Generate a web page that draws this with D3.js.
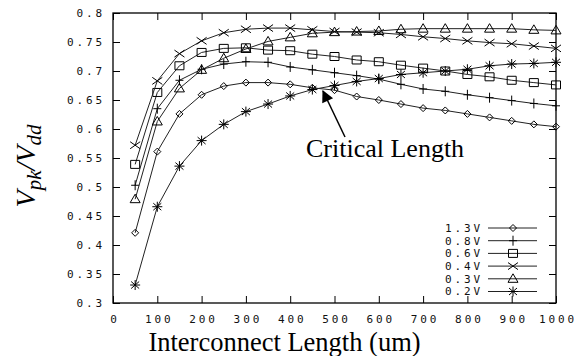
<!DOCTYPE html>
<meta charset="utf-8">
<style>
  body { margin: 0; background: #fff; }
  .tick text { font-family: "DejaVu Sans Mono", "Liberation Mono", monospace; font-size: 11px; letter-spacing: 2.9px; fill: #111; }
  .legend text { font-family: "DejaVu Sans Mono", "Liberation Mono", monospace; font-size: 11px; letter-spacing: 2.9px; fill: #111; }
  .series path.line { fill: none; stroke: #222; stroke-width: 1; }
  .marker { fill: none; stroke: #000; stroke-width: 1; }
</style>
<body>
<script src="https://cdn.jsdelivr.net/npm/d3@7"></script>
<script>

 // interconnect lengths (um)
 var lengths = [50, 100, 150, 200, 250, 300, 350, 400, 450, 500,
                550, 600, 650, 700, 750, 800, 850, 900, 950, 1000];

 var seriesNames = ["1.3V", "0.8V", "0.6V", "0.4V", "0.3V", "0.2V"];
 var seriesSymbols = ["diamond", "plus", "square", "cross", "triangle", "star"];

 var v13 = [0.421, 0.561, 0.626, 0.659, 0.674, 0.680, 0.680, 0.677, 0.671, 0.667,
            0.656, 0.650, 0.643, 0.636, 0.632, 0.626, 0.620, 0.614, 0.608, 0.604];
 var v08 = [0.503, 0.635, 0.684, 0.703, 0.712, 0.716, 0.715, 0.707, 0.702, 0.697,
            0.692, 0.686, 0.677, 0.669, 0.665, 0.659, 0.654, 0.649, 0.644, 0.640];
 var v06 = [0.539, 0.663, 0.709, 0.732, 0.739, 0.740, 0.736, 0.735, 0.729, 0.725,
            0.719, 0.716, 0.710, 0.705, 0.700, 0.694, 0.690, 0.684, 0.680, 0.676];
 var v04 = [0.572, 0.683, 0.730, 0.752, 0.766, 0.772, 0.774, 0.774, 0.771, 0.768,
            0.767, 0.766, 0.763, 0.759, 0.756, 0.752, 0.749, 0.747, 0.743, 0.739];
 var v03 = [0.479, 0.613, 0.670, 0.702, 0.722, 0.738, 0.751, 0.758, 0.765, 0.767,
            0.768, 0.769, 0.772, 0.773, 0.773, 0.773, 0.773, 0.773, 0.771, 0.770];
 var v02 = [0.331, 0.466, 0.536, 0.580, 0.608, 0.630, 0.643, 0.657, 0.668, 0.675,
            0.682, 0.687, 0.694, 0.697, 0.700, 0.703, 0.709, 0.712, 0.713, 0.715];
 var seriesValues = [v13, v08, v06, v04, v03, v02];

 var xTicks = [0, 100, 200, 300, 400, 500, 600, 700, 800, 900, 1000];
 var yTicks = [0.3, 0.35, 0.4, 0.45, 0.5, 0.55, 0.6, 0.65, 0.7, 0.75, 0.8];
 var yTickLabels = ["0.3", "0.35", "0.4", "0.45", "0.5", "0.55", "0.6", "0.65", "0.7", "0.75", "0.8"];

 var W = 574, H = 356;
 var plotL = 113, plotR = 556, plotT = 13, plotB = 303;

 var svg = d3.select("body").append("svg")
             .attr("width", W)
             .attr("height", H);

 var x = d3.scaleLinear().domain([0, 1000]).range([plotL, plotR]);
 var y = d3.scaleLinear().domain([0.3, 0.8]).range([plotB, plotT]);

 var tick = 7;

 // axes, ticks pointing inwards and mirrored on top / right
 var gx = svg.append("g")
             .attr("transform", "translate(0," + plotB + ")")
             .call(d3.axisBottom(x).tickValues(xTicks).tickSize(-tick).tickPadding(12)
                   .tickFormat(d3.format("d")));
 gx.selectAll("text").attr("dx", 1.5);

 var gy = svg.append("g")
             .attr("transform", "translate(" + plotL + ",0)")
             .call(d3.axisLeft(y).tickValues(yTicks).tickSize(-tick)
                   .tickFormat((d, i) => yTickLabels[i]));
 gy.selectAll("text").attr("x", -8);

 svg.append("g")
    .attr("transform", "translate(0," + plotT + ")")
    .call(d3.axisTop(x).tickValues(xTicks).tickSize(-tick).tickFormat(""));
 svg.append("g")
    .attr("transform", "translate(" + plotR + ",0)")
    .call(d3.axisRight(y).tickValues(yTicks).tickSize(-tick).tickFormat(""));

 svg.selectAll(".domain").remove();
 svg.selectAll(".tick line").attr("stroke", "#000").attr("stroke-width", 1);

 svg.append("rect")
    .attr("x", plotL).attr("y", plotT)
    .attr("width", plotR - plotL).attr("height", plotB - plotT)
    .attr("fill", "none")
    .attr("stroke", "#000")
    .attr("stroke-width", 1.3);

 // gnuplot-like point symbols
 function symbolPath(type) {
     var p = d3.path();
     if (type == "diamond") {
         p.moveTo(0, -3.5); p.lineTo(3.5, 0); p.lineTo(0, 3.5); p.lineTo(-3.5, 0); p.closePath();
     } else if (type == "plus") {
         p.moveTo(-4, 0); p.lineTo(4, 0); p.moveTo(0, -5); p.lineTo(0, 5);
     } else if (type == "square") {
         p.rect(-4.5, -4, 9, 8);
     } else if (type == "cross") {
         p.moveTo(-5, -3.5); p.lineTo(5, 3.5); p.moveTo(-5, 3.5); p.lineTo(5, -3.5);
     } else if (type == "triangle") {
         p.moveTo(0, -5); p.lineTo(5, 3.5); p.lineTo(-5, 3.5); p.closePath();
     } else if (type == "star") {
         p.moveTo(-5, 0); p.lineTo(5, 0); p.moveTo(0, -5); p.lineTo(0, 5);
         p.moveTo(-4, -3.5); p.lineTo(4, 3.5); p.moveTo(-4, 3.5); p.lineTo(4, -3.5);
     }
     return p.toString();
 }

 var series = seriesNames.map((name, i) => ({
     name: name,
     symbol: seriesSymbols[i],
     points: lengths.map((l, j) => ({ x: l, y: seriesValues[i][j] }))
 }));

 var line = d3.line().x(d => x(d.x)).y(d => y(d.y));

 var sg = svg.selectAll(".series")
             .data(series)
             .enter()
             .append("g")
             .classed("series", true);

 sg.append("path")
   .classed("line", true)
   .attr("d", d => line(d.points));

 sg.each(function(s) {
     d3.select(this).selectAll(".marker")
       .data(s.points)
       .enter()
       .append("path")
       .classed("marker", true)
       .attr("transform", d => "translate(" + x(d.x) + "," + y(d.y) + ")")
       .attr("d", symbolPath(s.symbol));
 });

 // legend
 var legend = svg.append("g").classed("legend", true);
 var lg = legend.selectAll("g")
                .data(series)
                .enter()
                .append("g")
                .attr("transform", (d, i) => "translate(0," + (228 + i * 12.7) + ")");
 lg.append("text")
   .attr("x", 483)
   .attr("dy", "0.35em")
   .attr("text-anchor", "end")
   .text(d => d.name);
 lg.append("line")
   .attr("x1", 488).attr("x2", 537)
   .attr("stroke", "#222").attr("stroke-width", 1);
 lg.append("path")
   .classed("marker", true)
   .attr("transform", "translate(513,0)")
   .attr("d", d => symbolPath(d.symbol));

 // annotation
 svg.append("defs").append("marker")
    .attr("id", "head")
    .attr("viewBox", "0 0 10 10")
    .attr("refX", 9).attr("refY", 5)
    .attr("markerWidth", 17).attr("markerHeight", 12)
    .attr("markerUnits", "userSpaceOnUse")
    .attr("orient", "auto")
    .append("path")
    .attr("d", "M0,0L10,5L0,10Z")
    .attr("fill", "#000");

 svg.append("line")
    .attr("x1", 345).attr("y1", 137)
    .attr("x2", 323).attr("y2", 91)
    .attr("stroke", "#000")
    .attr("stroke-width", 1.5)
    .attr("marker-end", "url(#head)");

 svg.append("text")
    .attr("x", 306).attr("y", 157)
    .attr("font-family", "Liberation Serif, Times New Roman, serif")
    .attr("font-size", 26)
    .text("Critical Length");

 svg.append("text")
    .attr("x", (plotL + plotR) / 2 - 50).attr("y", 351)
    .attr("text-anchor", "middle")
    .attr("font-family", "Liberation Serif, Times New Roman, serif")
    .attr("font-size", 26.5)
    .text("Interconnect Length (um)");

 var yl = svg.append("text")
             .attr("transform", "translate(35,166) rotate(-90)")
             .attr("text-anchor", "middle")
             .attr("font-family", "Liberation Serif, Times New Roman, serif")
             .attr("font-style", "italic")
             .attr("font-size", 28);
 yl.append("tspan").text("V");
 yl.append("tspan").attr("font-size", 21).attr("dy", 6).text("pk");
 yl.append("tspan").attr("dy", -6).text("/V");
 yl.append("tspan").attr("font-size", 21).attr("dy", 6).text("dd");

</script>
